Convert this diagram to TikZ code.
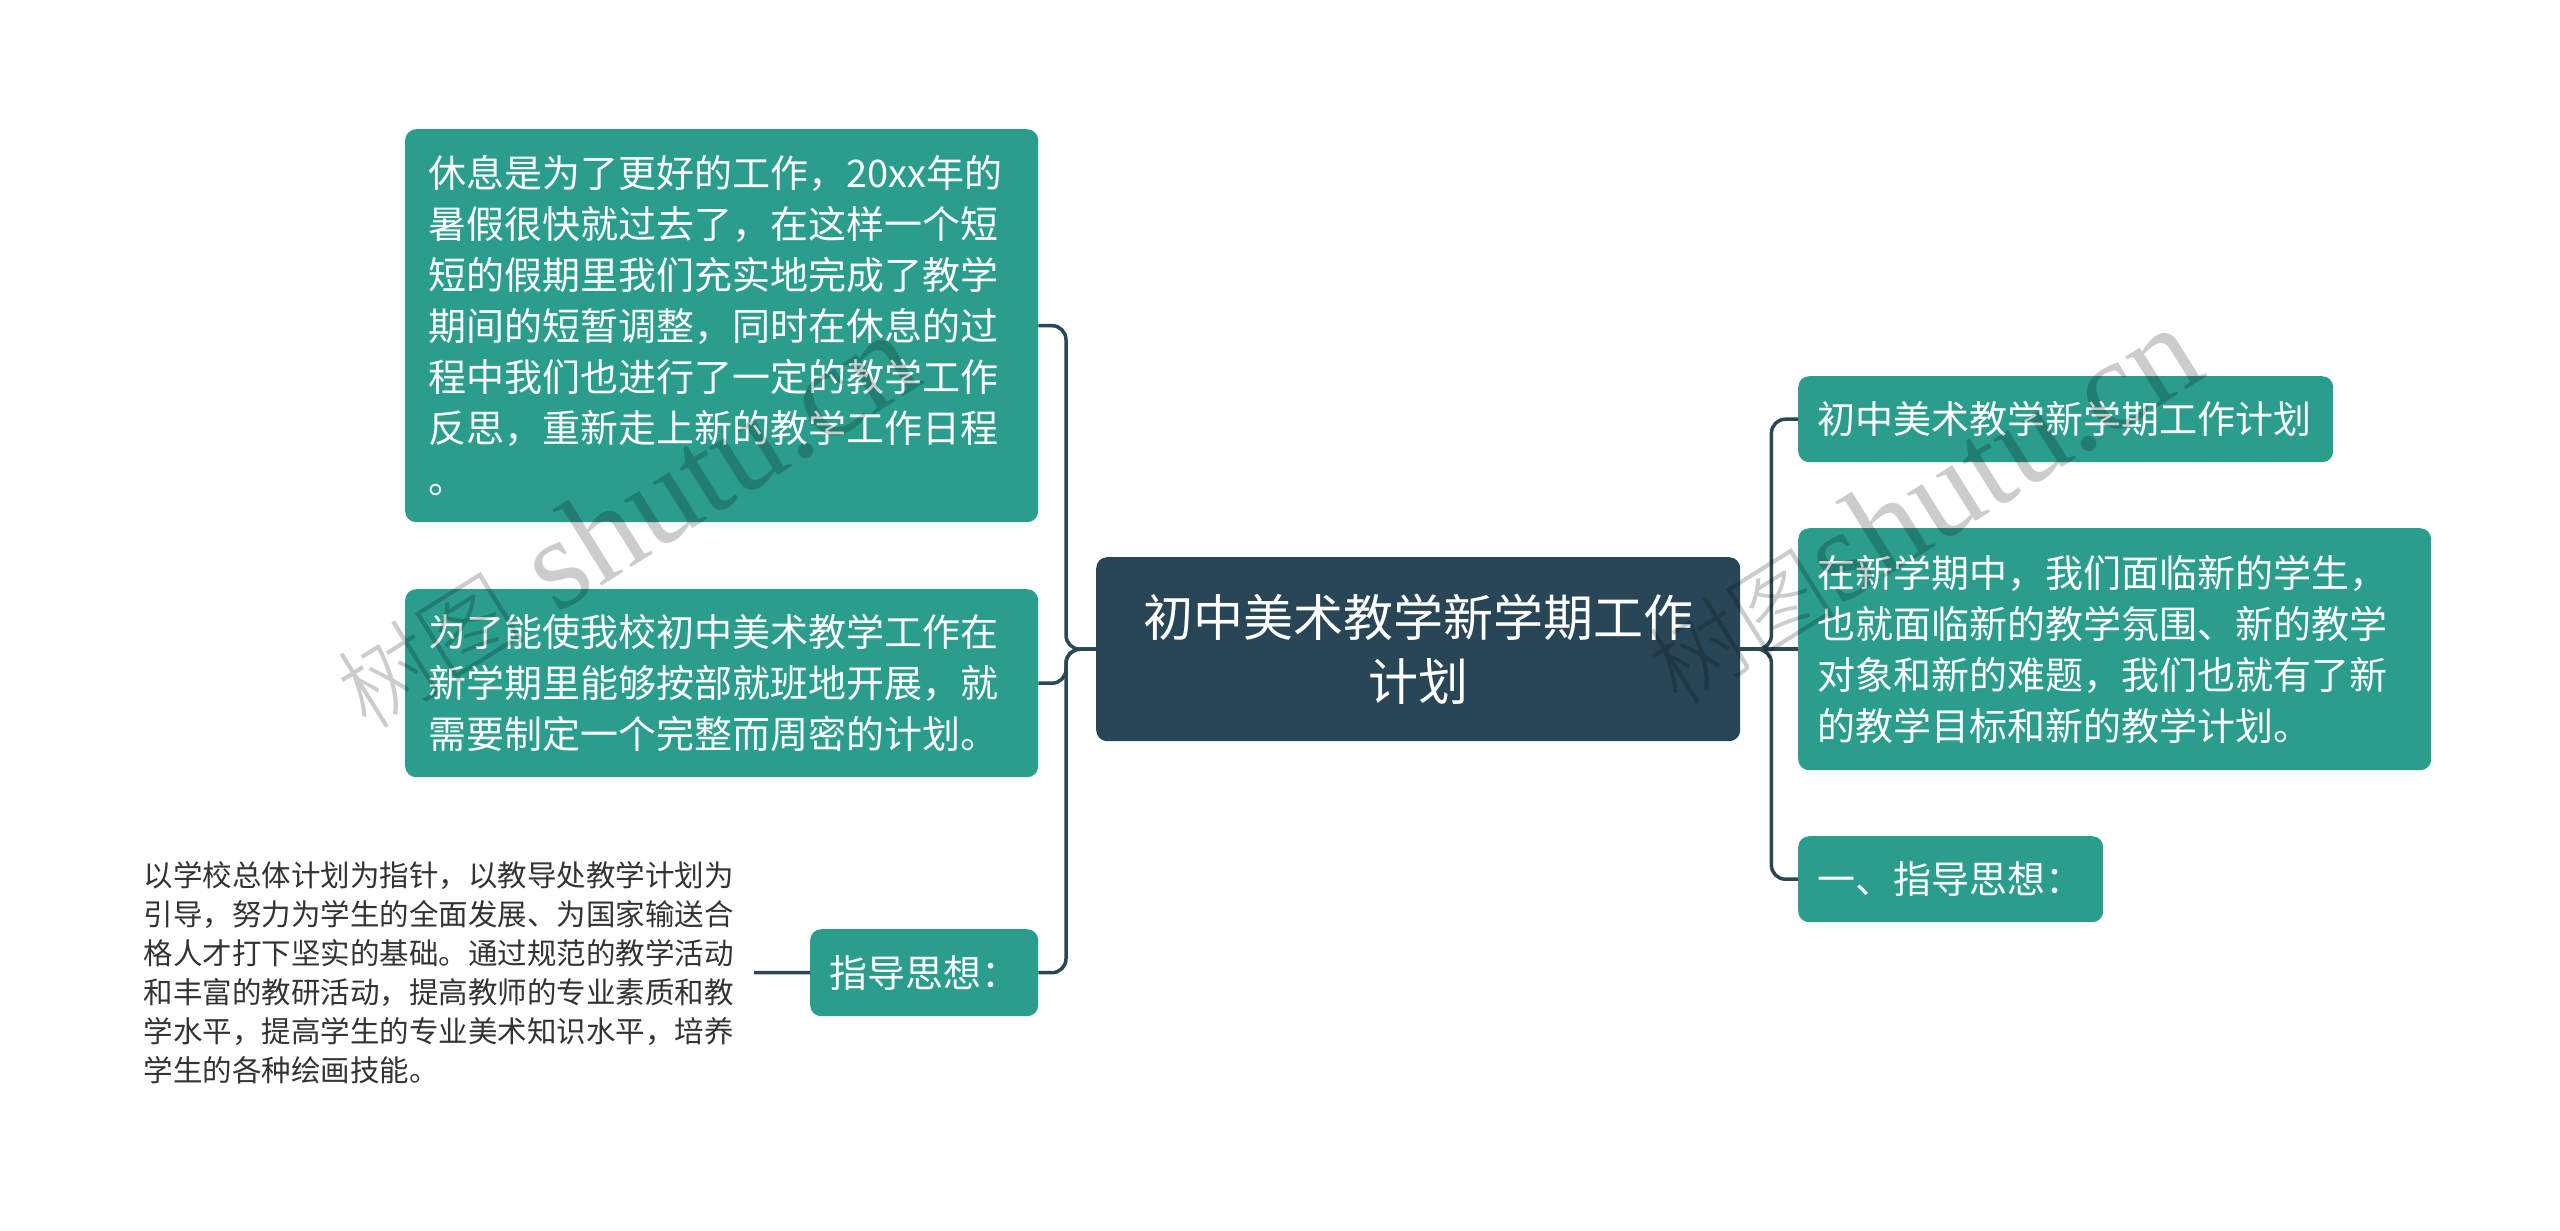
\documentclass[tikz,border=0pt]{standalone}
\usepackage{fontspec}
\setmainfont{Noto Sans CJK SC}
\newfontfamily\wmserif{Liberation Serif}
\newfontfamily\wmcjk{Noto Sans CJK SC Light}
\definecolor{tealbox}{HTML}{2A9D8C}
\definecolor{navybox}{HTML}{284655}
\definecolor{linecol}{HTML}{2B4753}
\definecolor{plaintext}{HTML}{333333}
\begin{document}
\begin{tikzpicture}[x=1pt,y=-1pt,
  box/.style={fill=tealbox, rounded corners=11pt, inner sep=0pt, anchor=north west,
    text=white, align=left, font=\fontsize{38}{51}\selectfont},
  centerbox/.style={fill=navybox, rounded corners=11pt, inner sep=0pt, anchor=north west,
    text=white, align=center, font=\fontsize{50}{64}\selectfont},
  conn/.style={draw=linecol, line width=3.5pt, rounded corners=14pt},
  wm/.style={text=black, text opacity=0.2, inner sep=0pt}]
\useasboundingbox (0,0) rectangle (2560,1231);

% center
\node[centerbox, minimum width=644pt, minimum height=184pt, text width=610pt] (c) at (1096,557)
  {初中美术教学新学期工作\\计划};

% left boxes
\node[box, minimum width=633pt, minimum height=393pt, text width=587pt] (b1) at (405,129)
  {休息是为了更好的工作，20xx年的\\
   暑假很快就过去了，在这样一个短\\
   短的假期里我们充实地完成了教学\\
   期间的短暂调整，同时在休息的过\\
   程中我们也进行了一定的教学工作\\
   反思，重新走上新的教学工作日程\\
   。\vphantom{国}};
\node[box, minimum width=633pt, minimum height=188pt, text width=587pt] (b2) at (405,589)
  {为了能使我校初中美术教学工作在\\
   新学期里能够按部就班地开展，就\\
   需要制定一个完整而周密的计划。};
\node[box, minimum width=228pt, minimum height=87pt, text width=190pt] (zd) at (810,929)
  {指导思想：};
\coordinate (ltend) at (754,972.5);
\node[anchor=east, inner xsep=16pt, inner ysep=0pt, text width=594pt, align=left,
      text=plaintext, font=\fontsize{29.5}{39}\selectfont] (lt) at (ltend)
  {以学校总体计划为指针，以教导处教学计划为\\
   引导，努力为学生的全面发展、为国家输送合\\
   格人才打下坚实的基础。通过规范的教学活动\\
   和丰富的教研活动，提高教师的专业素质和教\\
   学水平，提高学生的专业美术知识水平，培养\\
   学生的各种绘画技能。};

% right boxes
\node[box, minimum width=535pt, minimum height=86pt, text width=497pt] (r1) at (1798,376)
  {初中美术教学新学期工作计划};
\node[box, minimum width=633pt, minimum height=242pt, text width=595pt] (r2) at (1798,528)
  {在新学期中，我们面临新的学生，\\
   也就面临新的教学氛围、新的教学\\
   对象和新的难题，我们也就有了新\\
   的教学目标和新的教学计划。};
\node[box, minimum width=305pt, minimum height=86pt, text width=267pt] (r3) at (1798,836)
  {一、指导思想：};

% connectors
\draw[conn] (c.west) -- ++(-30,0) |- (b1.east);
\draw[conn] (c.west) -- ++(-30,0) |- (b2.east);
\draw[conn] (c.west) -- ++(-30,0) |- (zd.east);
\draw[conn] (zd.west) -- (lt.east);
\draw[conn] (c.east) -- ++(31,0) |- (r1.west);
\draw[conn] (c.east) -- (c.east -| r2.west);
\draw[conn] (c.east) -- ++(31,0) |- (r3.west);

% watermarks
\node[wm, rotate=32] (wm1) at (625,522)
  {{\wmcjk\fontsize{95}{95}\selectfont 树图}{\wmserif\fontsize{130}{130}\selectfont\ shutu.cn}};
\node[wm, rotate=32] (wm2) at (1922,506)
  {{\wmcjk\fontsize{95}{95}\selectfont 树图}{\wmserif\fontsize{130}{130}\selectfont shutu.cn}};
\end{tikzpicture}
\end{document}
